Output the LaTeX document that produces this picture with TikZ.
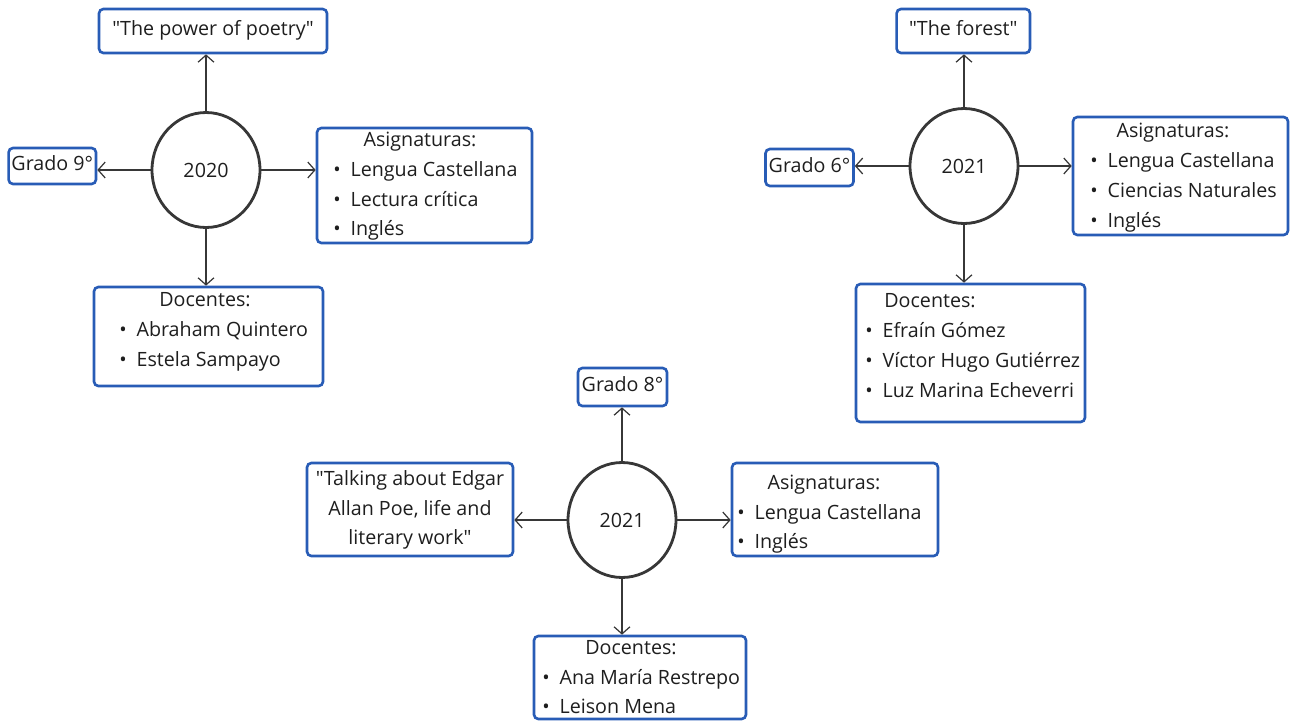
\documentclass[tikz,border=0pt]{standalone}
\usepackage{fontspec}
\setmainfont{Open Sans}
\usetikzlibrary{shapes.geometric,fit,arrows.meta}
\definecolor{boxblue}{RGB}{40,92,182}
\definecolor{ringgray}{RGB}{55,55,55}
\definecolor{txtgray}{RGB}{30,30,30}
\newcommand{\itm}[1]{\textbullet\hspace{0.5em}#1}
\newcommand{\qt}{\textquotedbl}

\begin{document}
\begin{tikzpicture}[x=0.02cm, y=-0.02cm,
    every node/.style={font=\fontsize{11.2}{17}\selectfont, text=txtgray},
    box/.style={draw=boxblue, line width=1.5pt, rounded corners=2.5pt, inner sep=0pt},
    year/.style={ellipse, draw=ringgray, line width=1.6pt, minimum width=2.16cm, minimum height=2.3cm, inner sep=0pt},
    item/.style={anchor=west, inner sep=0pt, text height=8pt, text depth=2.5pt},
    link/.style={draw=ringgray, line width=0.7pt, -{Straight Barb[length=4pt,width=9pt]}}]
	\useasboundingbox (0,0) rectangle (1291,720);
	% 2020, grado 9
	\node[year] (c1) at (206,170) {2020};
	\node[box, fit={(99,9) (327,53)}] (p1) {};
	\node[box, fit={(8.6,148) (96,184)}] (g1) {};
	\node[box, fit={(317,128) (532,243)}] (a1) {};
	\node[box, fit={(94,287) (323,386)}] (d1) {};
	\node[item, anchor=center] (p1t) at (p1.center) {\qt The power of poetry\qt};
	\node[item, anchor=center] (g1t) at (g1.center) {Grado 9°};
	\node[item, anchor=center] (a1t) at (420,142) {Asignaturas:};
	\node[item] (a1i) at (333,172) {\itm{Lengua Castellana}};
	\node[item] (a1ii) at (333,202) {\itm{Lectura crítica}};
	\node[item] (a1iii) at (333,231) {\itm{Inglés}};
	\node[item, anchor=center] (d1t) at (205,302) {Docentes:};
	\node[item] (d1i) at (119,332) {\itm{Abraham Quintero}};
	\node[item] (d1ii) at (119,362) {\itm{Estela Sampayo}};
	\draw[link] (c1.north) -- (c1.north |- p1.south);
	\draw[link] (c1.west) -- (c1.west -| g1.east);
	\draw[link] (c1.east) -- (c1.east -| a1.west);
	\draw[link] (c1.south) -- (c1.south |- d1.north);
	% 2021, grado 6
	\node[year] (c2) at (964,166) {2021};
	\node[box, fit={(896.6,9) (1030,53)}] (p2) {};
	\node[box, fit={(765.5,149) (853.5,186)}] (g2) {};
	\node[box, fit={(1073,117) (1288,235)}] (a2) {};
	\node[box, fit={(856,284) (1085,422)}] (d2) {};
	\node[item, anchor=center] (p2t) at (p2.center) {\qt The forest\qt};
	\node[item, anchor=center] (g2t) at (g2.center) {Grado 6°};
	\node[item, anchor=center] (a2t) at (1173,133) {Asignaturas:};
	\node[item] (a2i) at (1090,163) {\itm{Lengua Castellana}};
	\node[item] (a2ii) at (1090,193) {\itm{Ciencias Naturales}};
	\node[item] (a2iii) at (1090,223) {\itm{Inglés}};
	\node[item] (d2t) at (884,303) {Docentes:};
	\node[item] (d2i) at (865,333) {\itm{Efraín Gómez}};
	\node[item] (d2ii) at (865,363) {\itm{Víctor Hugo Gutiérrez}};
	\node[item] (d2iii) at (865,393) {\itm{Luz Marina Echeverri}};
	\draw[link] (c2.north) -- (c2.north |- p2.south);
	\draw[link] (c2.west) -- (c2.west -| g2.east);
	\draw[link] (c2.east) -- (c2.east -| a2.west);
	\draw[link] (c2.south) -- (c2.south |- d2.north);
	% 2021, grado 8
	\node[year] (c3) at (622,520) {2021};
	\node[box, fit={(578,368) (667,406)}] (g3) {};
	\node[box, fit={(307,463) (513,556)}] (p3) {};
	\node[box, fit={(732,463) (938,556)}] (a3) {};
	\node[box, fit={(534,636) (746,719)}] (d3) {};
	\node[item, anchor=center] (g3t) at (g3.center) {Grado 8°};
	\node[align=center, inner sep=0pt] (p3t) at (410,510) {\qt Talking about Edgar\\Allan Poe, life and\\literary work\qt};
	\node[item, anchor=center] (a3t) at (824,485) {Asignaturas:};
	\node[item] (a3i) at (737,515) {\itm{Lengua Castellana}};
	\node[item] (a3ii) at (737,544) {\itm{Inglés}};
	\node[item, anchor=center] (d3t) at (631,650) {Docentes:};
	\node[item] (d3i) at (542,680) {\itm{Ana María Restrepo}};
	\node[item] (d3ii) at (542,709) {\itm{Leison Mena}};
	\draw[link] (c3.north) -- (c3.north |- g3.south);
	\draw[link] (c3.west) -- (c3.west -| p3.east);
	\draw[link] (c3.east) -- (c3.east -| a3.west);
	\draw[link] (c3.south) -- (c3.south |- d3.north);
\end{tikzpicture}
\end{document}
